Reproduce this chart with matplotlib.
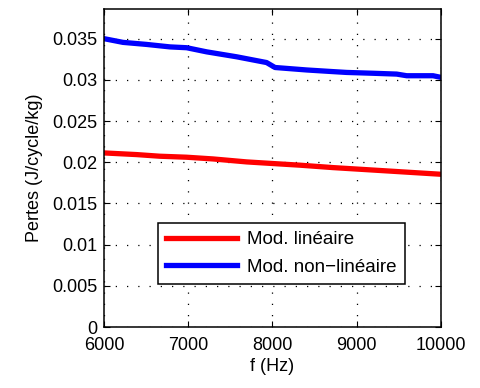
import numpy as np
import matplotlib
matplotlib.use("Agg")
import matplotlib.pyplot as plt

plt.rcParams["font.family"] = ["Liberation Sans", "DejaVu Sans"]

# frequency (Hz) and losses (J/cycle/kg)
f_lin = [6000, 6385, 6662, 6979, 7294, 7693, 8009, 8330, 8718, 9036, 9353, 9668, 10000]
p_lin = [0.02113, 0.02093, 0.02073, 0.02061, 0.0204, 0.02004, 0.01984,
         0.01964, 0.01935, 0.01915, 0.01895, 0.01875, 0.01854]

f_nl = [6000, 6225, 6506, 6783, 6981, 7218, 7574, 7930, 8030, 8405,
        8718, 8880, 9193, 9474, 9593, 9906, 10000]
p_nl = [0.0350, 0.03455, 0.0343, 0.0340, 0.0339, 0.0334, 0.0328, 0.0321,
        0.0315, 0.0312, 0.0310, 0.0309, 0.0308, 0.0307, 0.0305, 0.0305, 0.0303]

xticks = [6000, 7000, 8000, 9000, 10000]
yticks = [0, 0.005, 0.01, 0.015, 0.02, 0.025, 0.03, 0.035]
ytick_labels = ["0", "0.005", "0.01", "0.015", "0.02", "0.025", "0.03", "0.035"]

fig = plt.figure(figsize=(4.81, 3.88), dpi=100)
ax = fig.add_axes([0.2162, 0.1572, 0.7006, 0.8196])

ax.plot(f_lin, p_lin, color="#ff0000", lw=3.8, label="Mod. linéaire")
ax.plot(f_nl, p_nl, color="#0000ff", lw=3.8, label="Mod. non\u2212linéaire")

ax.set_xlim(6000, 10000)
ax.set_ylim(0, 0.0386)
ax.set_xticks(xticks)
ax.set_yticks(yticks)
ax.set_yticklabels(ytick_labels)
ax.tick_params(direction="in", top=True, right=True, labelsize=13, length=4, width=0.8)
ax.tick_params(axis="x", pad=7)
ax.tick_params(axis="y", pad=5)
ax.grid(True, color="black", linestyle=(0, (1, 8)), linewidth=0.9)
for s in ax.spines.values():
    s.set_linewidth(1.1)

ax.set_xlabel("f (Hz)", fontsize=13, labelpad=3)
ax.set_ylabel("Pertes (J/cycle/kg)", fontsize=13, labelpad=6)

leg = ax.legend(loc="lower left", bbox_to_anchor=(0.159, 0.135), borderaxespad=0,
                fontsize=13.5, handlelength=3.8, handletextpad=0.5, fancybox=False,
                framealpha=1, edgecolor="black", borderpad=0.45, labelspacing=0.55)
leg.get_frame().set_linewidth(1.1)

fig.savefig("out.png", dpi=100)
